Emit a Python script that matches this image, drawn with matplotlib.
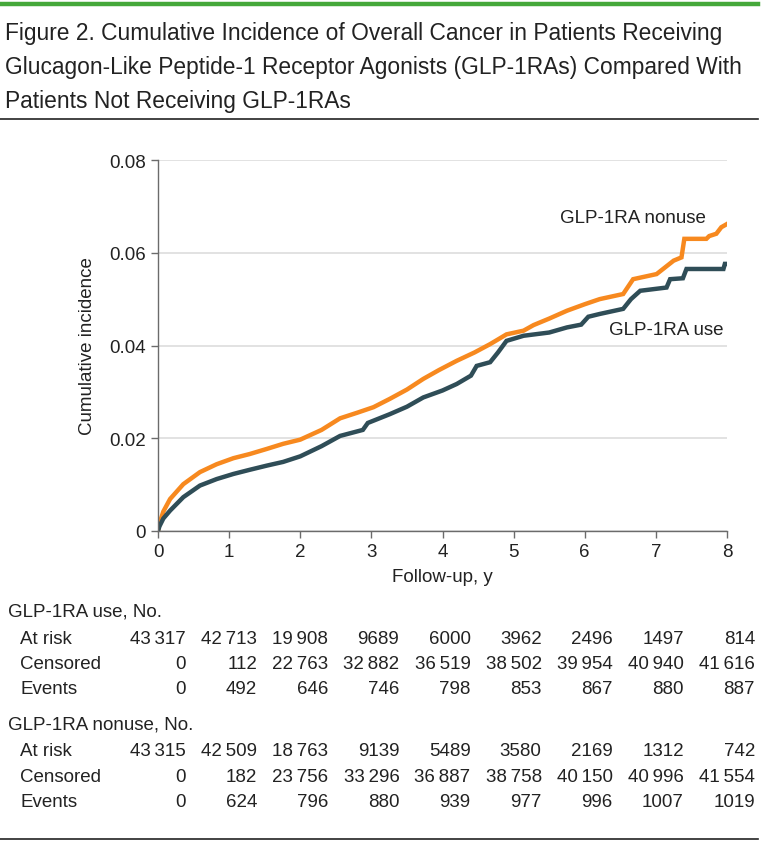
import matplotlib.pyplot as plt
from matplotlib import transforms

# ---- data ----
t_nonuse = [0, 0.02, 0.075, 0.17, 0.356, 0.59, 0.825, 1.06, 1.29, 1.53, 1.76, 2.0,
            2.3, 2.56, 2.8, 3.03, 3.26, 3.5, 3.73, 3.95, 4.2, 4.45, 4.67, 4.9, 5.14,
            5.28, 5.5, 5.75, 6.0, 6.21, 6.54, 6.68, 7.01, 7.25, 7.36, 7.40, 7.71,
            7.75, 7.85, 7.92, 8.0]
ci_nonuse = [0, 0.0016, 0.0042, 0.0069, 0.0101, 0.0127, 0.0144, 0.0157, 0.0166, 0.0177,
             0.0188, 0.0197, 0.0218, 0.0243, 0.0255, 0.0267, 0.0285, 0.0305, 0.0328,
             0.0347, 0.0367, 0.0385, 0.0403, 0.0424, 0.0432, 0.0444, 0.0458, 0.0475,
             0.0489, 0.0500, 0.0511, 0.0543, 0.0554, 0.0583, 0.0590, 0.0630, 0.0630,
             0.0636, 0.0641, 0.0655, 0.0662]

t_use = [0, 0.02, 0.075, 0.17, 0.356, 0.59, 0.825, 1.06, 1.29, 1.53, 1.76, 2.0, 2.3,
         2.56, 2.88, 2.95, 3.26, 3.5, 3.73, 4.0, 4.2, 4.4, 4.48, 4.67, 4.78, 4.9, 5.14,
         5.5, 5.75, 5.95, 6.05, 6.21, 6.54, 6.65, 6.78, 7.15, 7.2, 7.38, 7.43, 7.95,
         7.97, 8.0]
ci_use = [0, 0.0010, 0.0027, 0.0044, 0.0073, 0.0098, 0.0112, 0.0123, 0.0132, 0.0141,
          0.0149, 0.0161, 0.0183, 0.0205, 0.0218, 0.0233, 0.0252, 0.0268, 0.0288,
          0.0303, 0.0317, 0.0335, 0.0356, 0.0364, 0.0385, 0.0410, 0.0421, 0.0428,
          0.0439, 0.0445, 0.0462, 0.0468, 0.0479, 0.0500, 0.0518, 0.0525, 0.0543,
          0.0545, 0.0565, 0.0565, 0.0576, 0.0576]

years = [0, 1, 2, 3, 4, 5, 6, 7, 8]
use_at_risk = [43317, 42713, 19908, 9689, 6000, 3962, 2496, 1497, 814]
use_censored = [0, 112, 22763, 32882, 36519, 38502, 39954, 40940, 41616]
use_events = [0, 492, 646, 746, 798, 853, 867, 880, 887]
nonuse_at_risk = [43315, 42509, 18763, 9139, 5489, 3580, 2169, 1312, 742]
nonuse_censored = [0, 182, 23756, 33296, 36887, 38758, 40150, 40996, 41554]
nonuse_events = [0, 624, 796, 880, 939, 977, 996, 1007, 1019]

title = ("Figure 2. Cumulative Incidence of Overall Cancer in Patients Receiving\n"
         "Glucagon-Like Peptide-1 Receptor Agonists (GLP-1RAs) Compared With\n"
         "Patients Not Receiving GLP-1RAs")

ORANGE = '#f7891f'
SLATE = '#2f4d57'
GRAY = '#6b6b6b'
INK = '#222222'

plt.rcParams['font.family'] = ['Liberation Sans Narrow', 'Liberation Sans', 'DejaVu Sans']

W, H = 763, 845
fig = plt.figure(figsize=(W / 100, H / 100), dpi=100)


def fy(py):
    return 1 - py / H


def fx(px):
    return px / W


# top green bar, title, rules
fig.add_artist(plt.Line2D([0, fx(758)], [fy(5), fy(5)], color='#45a83a', lw=3.2))
fig.text(fx(5), fy(22), title, fontsize=16.4, va='top', ha='left',
         color=INK, linespacing=1.6)
fig.add_artist(plt.Line2D([0, fx(758)], [fy(120), fy(120)], color=INK, lw=1.2))
fig.add_artist(plt.Line2D([0, fx(758)], [fy(840), fy(840)], color=INK, lw=1.2))

# plot area
ax = fig.add_axes([fx(158), fy(532), fx(727) - fx(158), fy(161) - fy(532)])
ax.plot(t_nonuse, ci_nonuse, color=ORANGE, lw=3.2, solid_joinstyle='miter')
ax.plot(t_use, ci_use, color=SLATE, lw=3.2, solid_joinstyle='miter')

ax.set_xlim(0, 8)
ax.set_ylim(0, 0.08)
ax.set_xticks(years)
ax.set_yticks([0, 0.02, 0.04, 0.06, 0.08])
ax.set_yticklabels(['0', '0.02', '0.04', '0.06', '0.08'])
ax.yaxis.grid(True, color='#dddddd', lw=1.2)
ax.set_axisbelow(True)
for s in ['top', 'right']:
    ax.spines[s].set_visible(False)
for s in ['left', 'bottom']:
    ax.spines[s].set_color(GRAY)
    ax.spines[s].set_linewidth(1.0)
ax.tick_params(colors=GRAY, labelcolor=INK, labelsize=13.5, length=5, width=1.0)
ax.set_xlabel('Follow-up, y', fontsize=13.5, color=INK, labelpad=6)
ax.set_ylabel('Cumulative incidence', fontsize=13.5, color=INK, labelpad=10)

ax.text(7.7, 0.0675, 'GLP-1RA nonuse', fontsize=13.5, ha='right', va='center', color=INK)
ax.text(7.95, 0.0435, 'GLP-1RA use', fontsize=13.5, ha='right', va='center', color=INK)


# number-at-risk table
def fmt(v):
    s = str(v)
    if v >= 10000:
        s = s[:-3] + '\u2009' + s[-3:]
    return s


col_tr = transforms.blended_transform_factory(ax.transData, fig.transFigure) + \
    transforms.ScaledTranslation(0.28, 0, fig.dpi_scale_trans)

groups = [('GLP-1RA use, No.', 612, [('At risk', use_at_risk), ('Censored', use_censored),
                                       ('Events', use_events)]),
          ('GLP-1RA nonuse, No.', 725, [('At risk', nonuse_at_risk),
                                          ('Censored', nonuse_censored),
                                          ('Events', nonuse_events)])]
for head, y0, rows in groups:
    fig.text(fx(8), fy(y0), head, fontsize=13.5, va='center', color=INK)
    for k, (lab, vals) in enumerate(rows):
        yy = y0 + 27 + k * 25.5
        fig.text(fx(20), fy(yy), lab, fontsize=13.5, va='center', color=INK)
        for yr, v in zip(years, vals):
            fig.text(yr, fy(yy), fmt(v), transform=col_tr, fontsize=13.5,
                     ha='right', va='center', color=INK)

fig.savefig('out.png', dpi=100)
